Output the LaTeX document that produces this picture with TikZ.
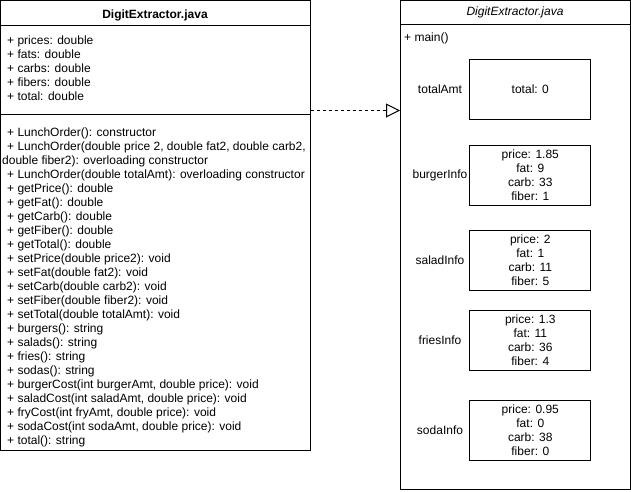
\documentclass[tikz,border=0pt]{standalone}
\usepackage{fontspec}
\setmainfont{Liberation Sans}
\usetikzlibrary{arrows.meta}
\begin{document}
\begin{tikzpicture}[x=1pt,y=-1pt,
  txt/.style={font=\fontsize{12}{14}\selectfont, inner sep=0pt, anchor=base west},
  ibox/.style={draw, line width=1pt, minimum width=120.7pt, minimum height=60pt, align=center, inner sep=0pt, font=\fontsize{12}{14}\selectfont},
  lbl/.style={font=\fontsize{12}{14}\selectfont, inner sep=0pt},
  frame/.style={draw, line width=1pt, inner sep=0pt}]
\useasboundingbox (0,0) rectangle (631,491);
% left class box
\node[frame, minimum width=309.5pt, minimum height=449.5pt] (L) at (155.25,225.25) {};
\draw[line width=1pt] (L.west |- 0,25) -- (L.east |- 0,25);
\draw[line width=1pt] (L.west |- 0,114) -- (L.east |- 0,114);
\node[txt, anchor=base, font=\fontsize{12}{14}\selectfont\bfseries] (Lt) at (155,18) {DigitExtractor.java};
\foreach \t [count=\i from 0] in {{+ prices: double},{+ fats: double},{+ carbs: double},{+ fibers: double},{+ total: double}}
  \node[txt] (a\i) at (7,44+14*\i) {\t};
\foreach \t [count=\i from 0] in {{+ LunchOrder(): constructor},
 {+ LunchOrder(double price 2, double fat2, double carb2,},
 {double fiber2): overloading constructor},
 {+ LunchOrder(double totalAmt): overloading constructor},
 {+ getPrice(): double},{+ getFat(): double},{+ getCarb(): double},{+ getFiber(): double},{+ getTotal(): double},
 {+ setPrice(double price2): void},{+ setFat(double fat2): void},{+ setCarb(double carb2): void},
 {+ setFiber(double fiber2): void},{+ setTotal(double totalAmt): void},
 {+ burgers(): string},{+ salads(): string},{+ fries(): string},{+ sodas(): string},
 {+ burgerCost(int burgerAmt, double price): void},{+ saladCost(int saladAmt, double price): void},
 {+ fryCost(int fryAmt, double price): void},{+ sodaCost(int sodaAmt, double price): void},
 {+ total(): string}}
  \node[txt] (m\i) at (\ifnum\i=2 2\else 7\fi,136+14*\i) {\t};
% right box
\node[frame, minimum width=229.5pt, minimum height=488.5pt] (R) at (515.25,244.75) {};
\draw[line width=0.6pt] (R.west |- 0,24) -- (R.east |- 0,24);
\node[txt, anchor=base, font=\fontsize{12}{14}\selectfont\itshape] (Rt) at (515,15) {DigitExtractor.java};
\node[txt] (main) at (404,41.7) {+ main()};
\node[ibox] (tb) at (530.3,89.5) {total: 0};
\node[ibox] (bb) at (530.3,175) {price: 1.85\\fat: 9\\carb: 33\\fiber: 1};
\node[ibox] (sb) at (530.3,260.5) {price: 2\\fat: 1\\carb: 11\\fiber: 5};
\node[ibox] (fb) at (530.3,340) {price: 1.3\\fat: 11\\carb: 36\\fiber: 4};
\node[ibox] (db) at (530.3,430) {price: 0.95\\fat: 0\\carb: 38\\fiber: 0};
\node[lbl] (tl) at (440,89.5) {totalAmt};
\node[lbl] (bl) at (440,175) {burgerInfo};
\node[lbl] (sl) at (440,260.5) {saladInfo};
\node[lbl] (fl) at (440,340) {friesInfo};
\node[lbl] (dl) at (440,430) {sodaInfo};
% arrow
\coordinate (ay) at (0,110.5);
\draw[line width=1pt, dash pattern=on 3pt off 3pt, -{Triangle[open,length=14pt,width=14pt,line width=1pt]}] (L.east |- ay) -- (R.west |- ay);
\end{tikzpicture}
\end{document}
